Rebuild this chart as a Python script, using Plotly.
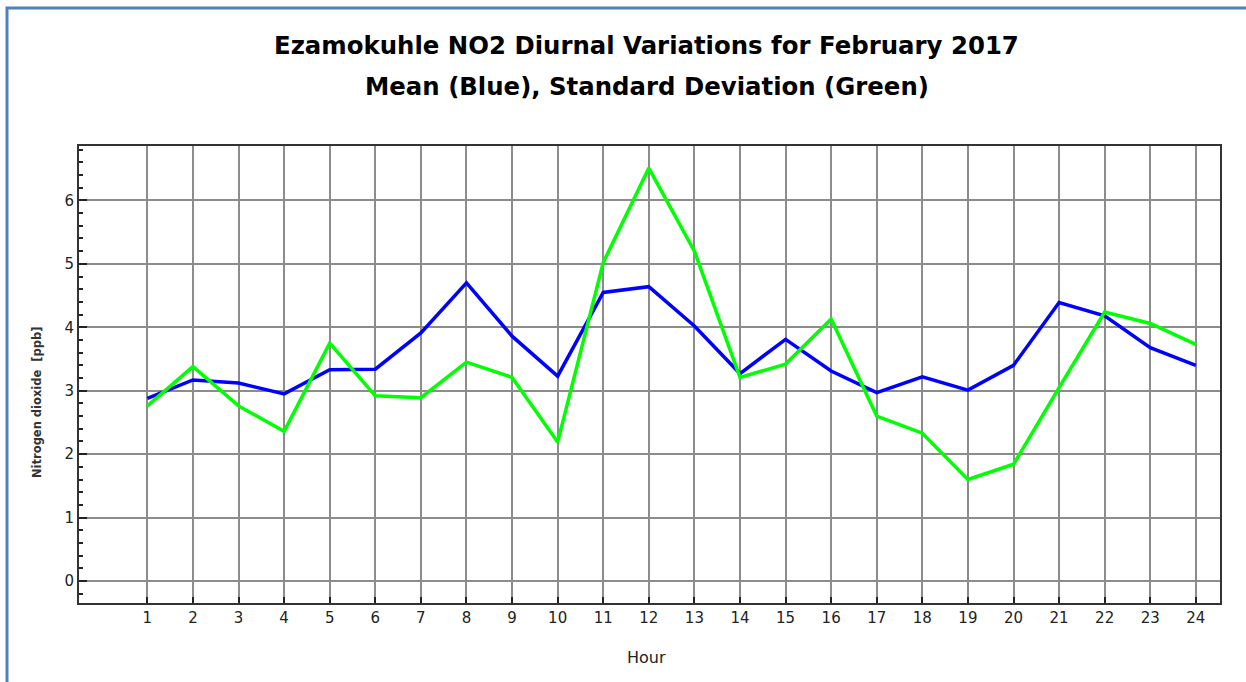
import plotly.graph_objects as go

hours = list(range(1, 25))
mean_no2 = [2.88, 3.17, 3.12, 2.95, 3.33, 3.34, 3.91, 4.70, 3.86, 3.23, 4.55, 4.64,
            4.02, 3.27, 3.81, 3.31, 2.97, 3.22, 3.01, 3.40, 4.39, 4.18, 3.68, 3.40]
std_no2 = [2.76, 3.38, 2.76, 2.36, 3.75, 2.92, 2.89, 3.45, 3.21, 2.19, 5.02, 6.51,
           5.20, 3.21, 3.42, 4.13, 2.60, 2.33, 1.60, 1.84, 3.05, 4.24, 4.06, 3.73]
y_ticks = [0, 1, 2, 3, 4, 5, 6]

title1 = "Ezamokuhle NO2 Diurnal Variations for February 2017"
title2 = "Mean (Blue), Standard Deviation (Green)"

W, H = 1246, 682
L, R, T, B = 79, 1220, 146, 603
pw, ph = R - L, B - T

def px(x):
    return (x - L) / pw

def py(y):
    return (B - y) / ph

fig = go.Figure()
fig.add_trace(go.Scatter(x=hours, y=mean_no2, mode="lines",
                         line=dict(color="#0000FF", width=3.5), name="Mean"))
fig.add_trace(go.Scatter(x=hours, y=std_no2, mode="lines",
                         line=dict(color="#00FF00", width=3.5), name="Std"))

font_main = "DejaVu Sans, Verdana, sans-serif"

fig.update_layout(
    width=W, height=H, autosize=False,
    margin=dict(l=L, r=W - R, t=T, b=H - B, pad=0),
    paper_bgcolor="white", plot_bgcolor="white",
    showlegend=False,
    font=dict(family=font_main, size=15, color="#222222"),
    xaxis=dict(range=[-0.5, 24.53], tickmode="array", tickvals=hours,
               ticktext=[str(h) for h in hours],
               showgrid=True, gridcolor="#8c8c8c", gridwidth=2,
               showline=True, linecolor="#333333", linewidth=2, mirror=True,
               ticks="inside", ticklen=6, tickwidth=2, tickcolor="#222222",
               zeroline=False, tickfont=dict(size=15, color="#222222")),
    yaxis=dict(range=[-0.347, 6.858], tickmode="array", tickvals=y_ticks,
               showgrid=True, gridcolor="#8c8c8c", gridwidth=2,
               showline=True, linecolor="#333333", linewidth=2, mirror=True,
               ticks="inside", ticklen=8, tickwidth=2, tickcolor="#222222",
               minor=dict(dtick=0.2, tick0=0, ticks="inside", ticklen=4,
                          tickwidth=2, tickcolor="#222222", showgrid=False),
               zeroline=False, tickfont=dict(size=15, color="#222222")),
    annotations=[
        dict(text="<b>" + title1 + "</b>", x=px(646), y=py(46), xref="paper", yref="paper",
             showarrow=False, xanchor="center", yanchor="middle",
             font=dict(family=font_main, size=24.4, color="#000000")),
        dict(text="<b>" + title2 + "</b>", x=px(647), y=py(87), xref="paper", yref="paper",
             showarrow=False, xanchor="center", yanchor="middle",
             font=dict(family=font_main, size=24.4, color="#000000")),
        dict(text="<b>Nitrogen dioxide  [ppb]</b>", x=px(37), y=py(402), xref="paper", yref="paper",
             showarrow=False, xanchor="center", yanchor="middle", textangle=-90,
             font=dict(family=font_main, size=11.5, color="#333333")),
        dict(text="Hour", x=px(646), y=py(657), xref="paper", yref="paper",
             showarrow=False, xanchor="center", yanchor="middle",
             font=dict(family=font_main, size=16, color="#222222")),
    ],
    shapes=[
        dict(type="rect", xref="paper", yref="paper",
             x0=px(7), x1=px(1300), y0=py(720), y1=py(8),
             line=dict(color="#4F81BD", width=3), fillcolor="rgba(0,0,0,0)", layer="above"),
    ],
)

fig.write_html("out.html", config={"displayModeBar": False},
               post_script="document.body.style.margin='0';")
